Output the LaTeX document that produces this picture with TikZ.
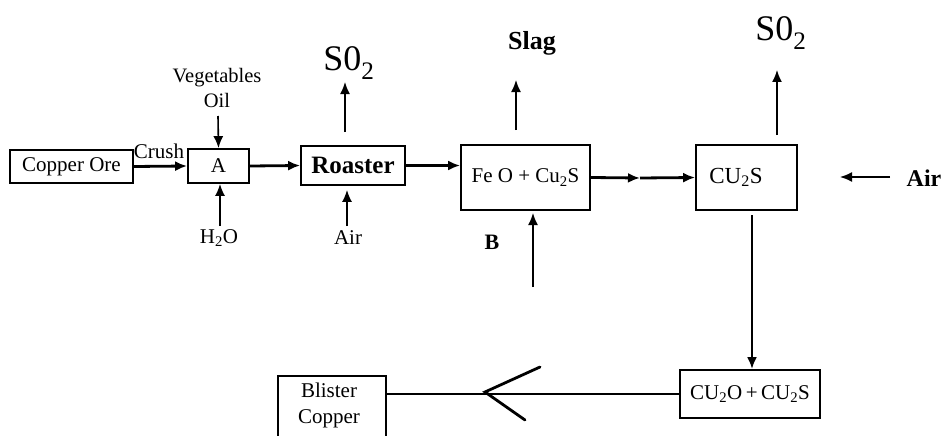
\documentclass[tikz,border=0pt]{standalone}
\usepackage{fontspec}
\setmainfont{Liberation Serif}
\usetikzlibrary{arrows.meta}
\tikzset{
  box/.style={draw, line width=1.8pt, inner sep=0pt, font=\fontsize{21}{24}\selectfont},
  lbl/.style={inner sep=0pt, font=\fontsize{21}{24}\selectfont},
  blbl/.style={inner sep=0pt, font=\fontsize{22}{26}\selectfont\bfseries},
  flow/.style={line width=2.8pt, -{Latex[length=12pt,width=10pt]}},
  thin/.style={line width=1.6pt, -{Latex[length=12pt,width=10pt]}},
  plain/.style={line width=2.8pt}
}
\begin{document}
\begin{tikzpicture}[x=1pt,y=-1pt]
\useasboundingbox (0,0) rectangle (945,436);
% boxes
\node[box, minimum width=123pt, minimum height=33pt] (ore) at (71.5,166.5) {Copper Ore};
\node[box, minimum width=61pt, minimum height=34pt] (A) at (218.5,166) {A};
\node[box, minimum width=104pt, minimum height=39pt, font=\fontsize{25}{28}\selectfont\bfseries] (roaster) at (353,165.5) {Roaster};
\node[box, minimum width=129pt, minimum height=65pt] (feo) at (525.5,177.5) {Fe O + Cu\textsubscript{2}S};
\node[box, minimum width=101pt, minimum height=65pt] (cus) at (746.5,177.5) {};
\node[lbl, font=\fontsize{23}{26}\selectfont] (custxt) at (736,177.5) {CU\textsubscript{2}S};
\node[box, minimum width=140pt, minimum height=48pt] (cuo) at (750,394) {CU\textsubscript{2}O\,+\,CU\textsubscript{2}S};
\node[box, minimum width=108pt, minimum height=70pt] (blister) at (332,411) {};
\node[lbl, align=center, font=\fontsize{21}{26}\selectfont] (blistertxt) at (329,405) {Blister\\Copper};
% labels
\node[lbl] (crush) at (159,151) {Crush};
\node[lbl, align=center, font=\fontsize{20.5}{25}\selectfont] (veg) at (217,88) {Vegetables\\Oil};
\node[lbl] (h2o) at (219,238) {H\textsubscript{2}O};
\node[lbl, font=\fontsize{36}{40}\selectfont] (so2a) at (349,63) {S0\textsubscript{2}};
\node[lbl] (air1) at (348,238) {Air};
\node[blbl, font=\fontsize{26}{30}\selectfont\bfseries] (slag) at (532,43) {Slag};
\node[blbl] (B) at (492,242) {B};
\node[lbl, font=\fontsize{36}{40}\selectfont] (so2b) at (781,33) {S0\textsubscript{2}};
\node[blbl, font=\fontsize{24}{28}\selectfont\bfseries] (air2) at (924,178) {Air};
% coordinates
\coordinate (vegend) at (218,116);
\coordinate (h2oend) at (220,226);
\coordinate (so2astart) at (345,132);
\coordinate (so2aend) at (345,82);
\coordinate (air1end) at (347,226);
\coordinate (slagstart) at (516,130);
\coordinate (slagend) at (516,80);
\coordinate (bstart) at (533,287);
\coordinate (bend) at (533,213);
\coordinate (mid) at (640,178);
\coordinate (so2bstart) at (777,135);
\coordinate (so2bend) at (777,70);
\coordinate (air2start) at (890,177);
\coordinate (air2end) at (840,177);
\coordinate (cusout) at (752,215);
\coordinate (tip) at (485,392);
\coordinate (barbup) at (540,367);
\coordinate (barbdown) at (525,420);
% connectors
\draw[flow] (ore.east) -- (A.west);
\draw[thin] (vegend) -- (A.north);
\draw[thin] (h2oend) -- (A.south -| h2oend);
\draw[flow] (A.east) -- (roaster.west);
\draw[thin] (so2astart) -- (so2aend);
\draw[thin, shorten >=4pt] (air1end) -- (roaster.south -| air1end);
\draw[flow] (roaster.east) -- (roaster.east -| feo.west);
\draw[thin] (slagstart) -- (slagend);
\draw[thin] (bstart) -- (bend);
\draw[flow] (feo.east) -- (mid);
\draw[flow] (mid) -- (cus.west);
\draw[thin] (so2bstart) -- (so2bend);
\draw[thin] (air2start) -- (air2end);
\draw[flow, line width=2.4pt] (cusout) -- (cusout |- cuo.north);
\draw[plain] (cuo.west) -- (cuo.west -| blister.east);
\draw[plain, line cap=round] (barbup) -- (tip) -- (barbdown);
\end{tikzpicture}
\end{document}
